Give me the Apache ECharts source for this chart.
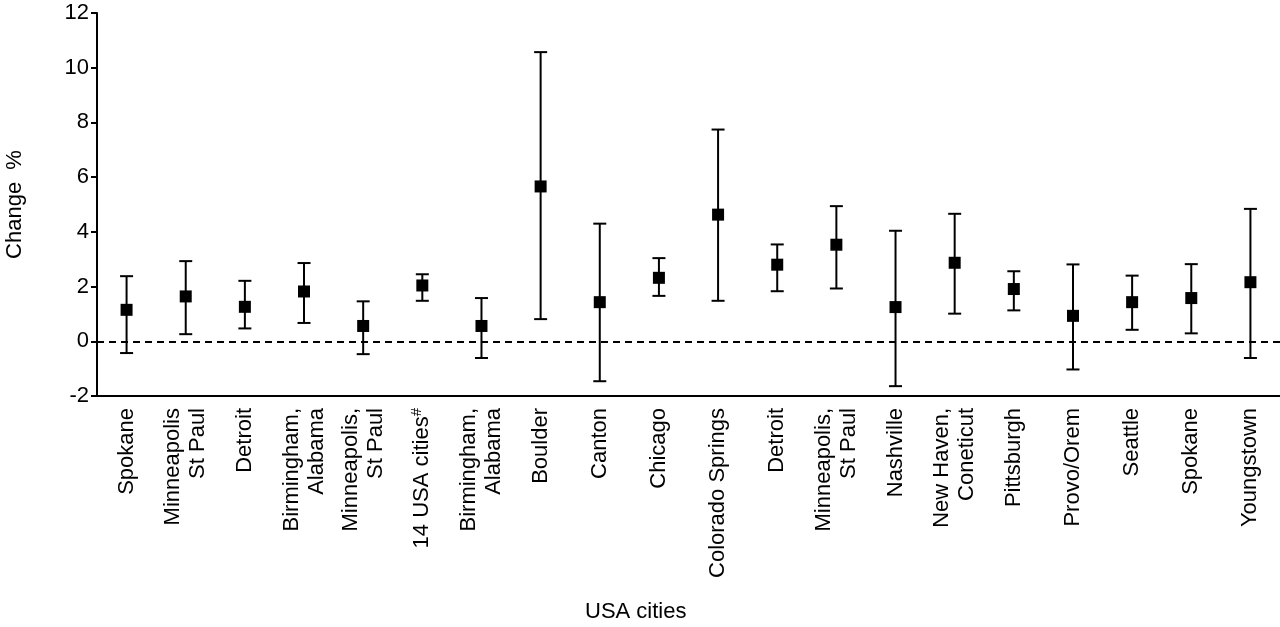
<!DOCTYPE html>
<html>
<head>
<meta charset="utf-8">
<script src="https://cdn.jsdelivr.net/npm/echarts@6/dist/echarts.min.js"></script>
<style>
  html, body { margin: 0; padding: 0; background: #fff; }
  #chart { width: 1280px; height: 627px; }
</style>
</head>
<body>
<div id="chart"></div>
<script>
// cities along the x axis (line breaks as in the figure)
const cities = [
  'Spokane', 'Minneapolis\nSt Paul', 'Detroit', 'Birmingham,\nAlabama',
  'Minneapolis,\nSt Paul', '14 USA cities#', 'Birmingham,\nAlabama', 'Boulder',
  'Canton', 'Chicago', 'Colorado Springs', 'Detroit', 'Minneapolis,\nSt Paul',
  'Nashville', 'New Haven,\nConeticut', 'Pittsburgh', 'Provo/Orem', 'Seattle',
  'Spokane', 'Youngstown'
]
// point estimate and confidence limits, change %
const estimate = [1.15, 1.64, 1.26, 1.82, 0.56, 2.04, 0.56, 5.66, 1.43, 2.32,
  4.63, 2.80, 3.53, 1.25, 2.87, 1.91, 0.93, 1.43, 1.58, 2.16]
const lower = [-0.43, 0.26, 0.47, 0.67, -0.47, 1.48, -0.61, 0.81, -1.46, 1.66,
  1.48, 1.83, 1.93, -1.64, 1.01, 1.13, -1.03, 0.42, 0.29, -0.61]
const upper = [2.38, 2.93, 2.21, 2.86, 1.46, 2.45, 1.58, 10.57, 4.30, 3.04,
  7.74, 3.54, 4.94, 4.04, 4.66, 2.56, 2.81, 2.40, 2.82, 4.84]
const yTicks = [-2, 0, 2, 4, 6, 8, 10, 12]

const font = 'Liberation Sans, Arial, sans-serif'
const chart = echarts.init(document.getElementById('chart'))

// error bars: vertical line plus two caps
function renderBar(params, api) {
  const x = api.value(0)
  const lo = api.coord([x, api.value(1)])
  const hi = api.coord([x, api.value(2)])
  const half = 6.5
  const style = { stroke: '#000', lineWidth: 2 }
  return {
    type: 'group',
    children: [
      { type: 'line', shape: { x1: lo[0], y1: lo[1], x2: hi[0], y2: hi[1] }, style },
      { type: 'line', shape: { x1: hi[0] - half, y1: hi[1], x2: hi[0] + half, y2: hi[1] }, style },
      { type: 'line', shape: { x1: lo[0] - half, y1: lo[1], x2: lo[0] + half, y2: lo[1] }, style }
    ]
  }
}

chart.setOption({
  animation: false,
  title: {
    text: 'USA cities',
    left: 585,
    top: 601,
    padding: 0,
    textStyle: { fontFamily: font, fontSize: 22, fontWeight: 'normal', color: '#000' }
  },
  grid: { left: 97, right: 0, top: 13, bottom: 231, outerBoundsMode: 'none', containLabel: false },
  xAxis: {
    type: 'category',
    data: cities,
    axisLine: { onZero: false, lineStyle: { color: '#000', width: 2 } },
    axisTick: { alignWithLabel: true, length: 6, lineStyle: { color: '#000', width: 2 } },
    axisLabel: {
      interval: 0,
      rotate: 90,
      margin: 12,
      color: '#000',
      fontFamily: font,
      fontSize: 22,
      lineHeight: 25,
      formatter: function (v) {
        if (v.indexOf('#') >= 0) {
          return '{a|' + v.replace('#', '') + '}{s|#}'
        }
        return v
      },
      rich: {
        a: { fontFamily: font, fontSize: 22, color: '#000' },
        s: { fontFamily: font, fontSize: 15, color: '#000', verticalAlign: 'top', padding: [0, 0, 8, 0] }
      }
    }
  },
  yAxis: {
    type: 'value',
    min: yTicks[0],
    max: yTicks[yTicks.length - 1],
    interval: 2,
    name: 'Change  %',
    nameLocation: 'middle',
    nameGap: 71,
    nameTextStyle: { fontFamily: font, fontSize: 22, color: '#000' },
    axisLine: { show: true, lineStyle: { color: '#000', width: 2 } },
    axisTick: { show: true, length: 6, lineStyle: { color: '#000', width: 2 } },
    axisLabel: { margin: 8, color: '#000', fontFamily: font, fontSize: 22 },
    splitLine: { show: false }
  },
  series: [
    {
      type: 'custom',
      renderItem: renderBar,
      data: cities.map((c, i) => [i, lower[i], upper[i]]),
      encode: { x: 0, y: [1, 2] },
      z: 2
    },
    {
      type: 'scatter',
      data: cities.map((c, i) => [i, estimate[i]]),
      symbol: 'rect',
      symbolSize: 12,
      itemStyle: { color: '#000', opacity: 1 },
      z: 3,
      markLine: {
        silent: true,
        symbol: 'none',
        label: { show: false },
        lineStyle: { color: '#000', width: 2, type: [7, 5] },
        data: [{ yAxis: 0 }]
      }
    }
  ]
})
</script>
</body>
</html>
